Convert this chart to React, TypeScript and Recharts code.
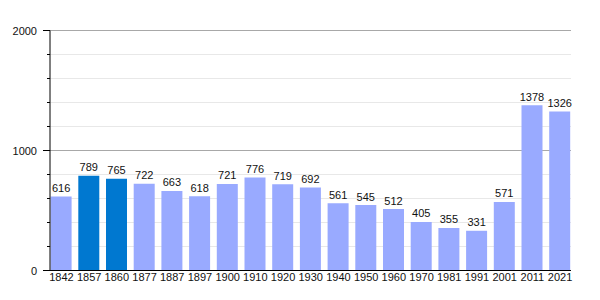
import { BarChart, Bar, XAxis, YAxis, CartesianGrid, Cell, LabelList } from 'recharts';

const years = ['1842', '1857', '1860', '1877', '1887', '1897', '1900', '1910', '1920', '1930', '1940', '1950', '1960', '1970', '1981', '1991', '2001', '2011', '2021'];
const population = [616, 789, 765, 722, 663, 618, 721, 776, 719, 692, 561, 545, 512, 405, 355, 331, 571, 1378, 1326];
const highlightYears = ['1857', '1860'];
const yTicks = [0, 200, 400, 600, 800, 1000, 1200, 1400, 1600, 1800, 2000];
const majorTicks = [0, 1000, 2000];

const data = years.map((year, i) => ({ year, pop: population[i] }));

const FONT = '"Liberation Sans", Arial, sans-serif';

function YTick(props: any) {
  const { x, y, payload } = props;
  const major = majorTicks.includes(payload.value);
  return (
    <g>
      <line x1={major ? x - 7 : x - 3} x2={x} y1={y} y2={y} stroke="#000" />
      {major && (
        <text x={x - 13} y={y} textAnchor="end" dominantBaseline="central" fontSize={11} fill="#111" fontFamily={FONT}>
          {payload.value}
        </text>
      )}
    </g>
  );
}

function GridLine(props: any) {
  const { x1, x2, y1, y2, index } = props;
  const major = majorTicks.includes(yTicks[index]);
  return <line key={`g-${index}`} x1={x1} x2={x2} y1={y1} y2={y2} stroke={major ? '#a8a8a8' : '#e8e8e8'} />;
}

export default function App() {
  return (
    <div style={{ position: 'absolute', left: 0, top: 0, width: 600, height: 300, background: '#fff' }}>
      <BarChart width={600} height={300} data={data} margin={{ top: 30.5, right: 29, bottom: 0, left: 0 }}>
        <CartesianGrid vertical={false} horizontal={GridLine} />
        <XAxis
          dataKey="year"
          height={29.5}
          padding={{ left: -2.4, right: -2.9 }}
          tickLine={false}
          tickSize={0}
          tickMargin={3}
          interval={0}
          axisLine={{ stroke: '#000' }}
          tick={{ fontSize: 11, fill: '#111', fontFamily: FONT }}
        />
        <YAxis
          width={50}
          domain={[0, 2000]}
          ticks={yTicks}
          interval={0}
          tickLine={false}
          tickSize={0}
          tickMargin={0}
          axisLine={{ stroke: '#000' }}
          tick={<YTick />}
        />
        <Bar dataKey="pop" barSize={21} isAnimationActive={false}>
          {data.map((d) => (
            <Cell key={d.year} fill={highlightYears.includes(d.year) ? '#0078d0' : '#99aaff'} />
          ))}
          <LabelList dataKey="pop" position="top" offset={4.5} fontSize={11} fill="#111" fontFamily={FONT} />
        </Bar>
      </BarChart>
    </div>
  );
}
